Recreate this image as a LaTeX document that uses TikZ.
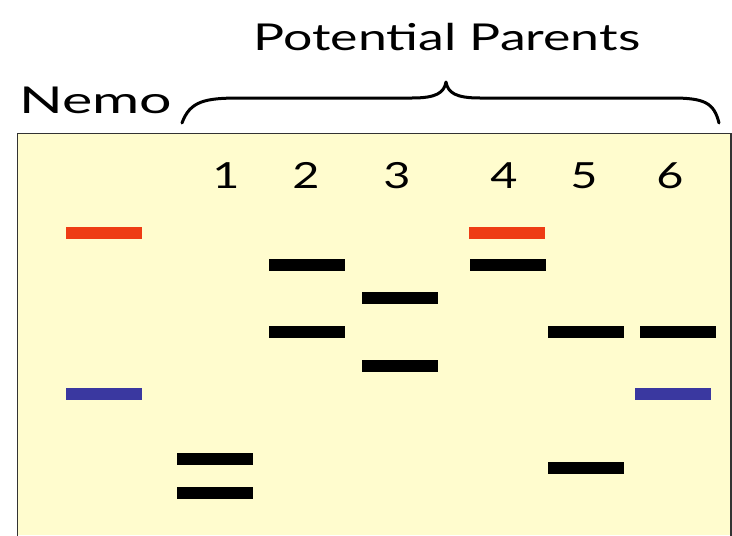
\documentclass[tikz,border=0pt]{standalone}
\usepackage{fontspec}
\setmainfont{Lato}
\definecolor{gelbg}{RGB}{255,252,206}
\definecolor{bandred}{RGB}{238,60,20}
\definecolor{bandblue}{RGB}{58,56,160}
\begin{document}
\begin{tikzpicture}[x=1pt,y=-1pt,
  band/.style={rectangle,inner sep=0pt,minimum width=76pt,minimum height=12pt,fill=black,draw=none},
  redband/.style={band,fill=bandred},
  blueband/.style={band,fill=bandblue},
  lanelabel/.style={anchor=base,font=\fontsize{36}{36}\selectfont,inner sep=0pt},
  bigtext/.style={inner sep=0pt,font=\fontsize{37}{37}\selectfont}]
\useasboundingbox (0,0) rectangle (732,536);
\fill[white] (0,0) rectangle (732,536);
% gel
\fill[gelbg] (17.5,133.5) rectangle (731,535);
\draw[line width=1.8pt,black!80] (17.5,540) -- (17.5,133.5) -- (731,133.5) -- (731,540);
% texts
\node[bigtext,anchor=base] (title) at (447,50) {\scalebox{1.4}[1]{Potential Parents}};
\node[bigtext,anchor=base west] (nemo) at (19,113) {\scalebox{1.55}[1]{Nemo}};
\node[lanelabel] (n1) at (226,188) {\scalebox{1.3}[1]{1}};
\node[lanelabel] (n2) at (306,188) {\scalebox{1.3}[1]{2}};
\node[lanelabel] (n3) at (397,188) {\scalebox{1.3}[1]{3}};
\node[lanelabel] (n4) at (504,188) {\scalebox{1.3}[1]{4}};
\node[lanelabel] (n5) at (584,188) {\scalebox{1.3}[1]{5}};
\node[lanelabel] (n6) at (670,188) {\scalebox{1.3}[1]{6}};
% brace
\coordinate (bl) at (182,123);
\coordinate (bt) at (446,82);
\coordinate (br) at (719,123);
\draw[line width=3pt,line cap=round,line join=round]
  (bl) .. controls (190,101) and (205,98) .. (240,98) -- (412,98)
  .. controls (436,98) and (444,93) .. (bt)
  .. controls (448,93) and (456,98) .. (480,98) -- (672,98)
  .. controls (705,98) and (714,103) .. (br);
% bands
\node[redband] (nemoR) at (104,233) {};
\node[blueband] (nemoB) at (104,393.5) {};
\node[band] (l1a) at (215,458.5) {};
\node[band] (l1b) at (215,492.5) {};
\node[band] (l2a) at (306.5,264.5) {};
\node[band] (l2b) at (306.5,332) {};
\node[band] (l3a) at (399.5,297.5) {};
\node[band] (l3b) at (399.5,365.5) {};
\node[redband] (l4r) at (506.5,233) {};
\node[band] (l4a) at (507.5,265) {};
\node[band] (l5a) at (585.5,332) {};
\node[band] (l5b) at (585.5,467.5) {};
\node[band] (l6a) at (677.5,332) {};
\node[blueband] (l6b) at (672.5,393.5) {};
\end{tikzpicture}
\end{document}
